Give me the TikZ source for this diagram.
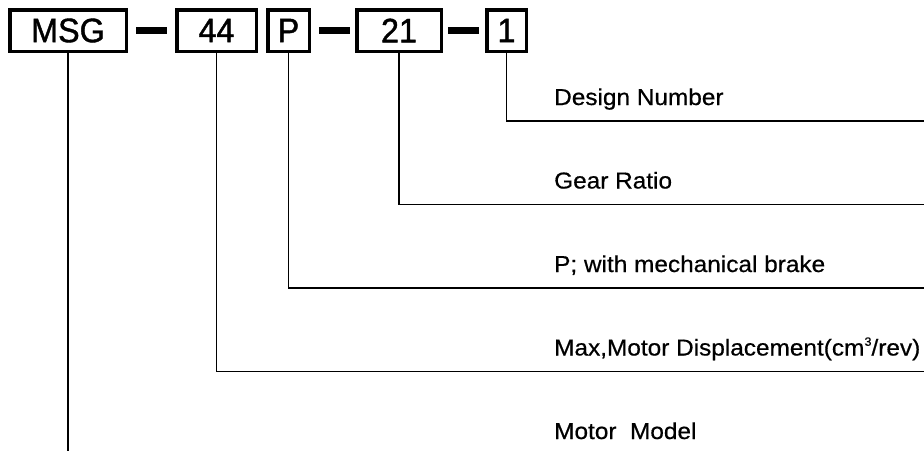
\documentclass[tikz,border=0pt]{standalone}
\usepackage{fontspec}
\setmainfont{Liberation Sans}[FakeStretch=1.06, FakeBold=0.6]
\newfontfamily\codefont{Liberation Sans}[FakeStretch=0.95, FakeBold=1.2]
\usepackage{tikz}
\usetikzlibrary{positioning}
\tikzstyle{codebox} = [rectangle, draw, line width=3.5pt, inner sep=0pt,
    minimum height=41.5pt, font=\codefont\fontsize{34}{36}\selectfont]
\tikzstyle{dashbar} = [rectangle, fill=black, inner sep=0pt,
    minimum width=31pt, minimum height=6.5pt]
\tikzstyle{desc} = [anchor=base west, inner sep=0pt, font=\fontsize{23}{26}\selectfont]
\tikzstyle{leader} = [draw, line width=1.6pt]
\newcommand{\cubed}{\raisebox{0.8ex}{\fontsize{12}{12}\selectfont 3}}

\begin{document}
\begin{tikzpicture}[x=1pt, y=-1pt]
    \useasboundingbox (0,0) rectangle (924,451);
    % Place nodes
    \node [codebox, minimum width=116.5pt] (msg) at (68,30.5) {MSG};
    \node [dashbar] (dasha) at (151.5,30.5) {};
    \node [codebox, minimum width=79.5pt] (disp) at (216.5,30.5) {44};
    \node [codebox, minimum width=41.5pt] (brake) at (288.5,30.5) {P};
    \node [dashbar] (dashb) at (334,30.5) {};
    \node [codebox, minimum width=84.5pt] (ratio) at (399,30.5) {21};
    \node [dashbar] (dashc) at (463.5,30.5) {};
    \node [codebox, minimum width=39.5pt] (design) at (506.5,30.5) {1};

    \node [desc] (designtxt) at (554,105) {Design Number};
    \node [desc] (ratiotxt) at (554,188.5) {Gear Ratio};
    \node [desc] (braketxt) at (554,272) {P; with mechanical brake};
    \node [desc] (disptxt) at (554,355.5) {Max,Motor Displacement(cm\cubed/rev)};
    \node [desc] (msgtxt) at (554,439) {Motor~~Model};

    % Line ends
    \coordinate (designend) at (924,121);
    \coordinate (ratioend) at (924,204.5);
    \coordinate (brakeend) at (924,288);
    \coordinate (dispend) at (924,371.5);
    \coordinate (msgend) at (68,451);

    % Draw edges
    \path [leader] (design.south) |- (designend);
    \path [leader] (ratio.south) |- (ratioend);
    \path [leader] (brake.south) |- (brakeend);
    \path [leader] (disp.south) |- (dispend);
    \path [leader] (msg.south) -- (msgend);
\end{tikzpicture}
\end{document}
